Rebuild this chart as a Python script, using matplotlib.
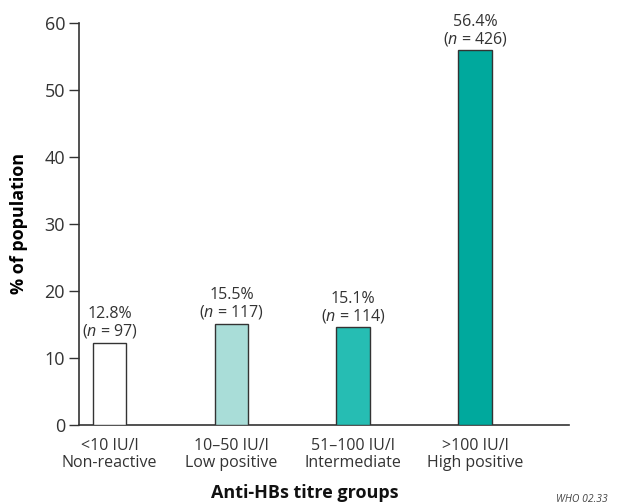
import matplotlib
matplotlib.use("Agg")
import matplotlib.pyplot as plt

# Data
groups = ["<10 IU/l\nNon-reactive", "10\u201350 IU/l\nLow positive",
          "51\u2013100 IU/l\nIntermediate", ">100 IU/l\nHigh positive"]
heights = [12.2, 15.0, 14.5, 55.9]          # bar heights as drawn
pct_labels = ["12.8%", "15.5%", "15.1%", "56.4%"]
n_values = [97, 117, 114, 426]
colors = ["#ffffff", "#a9ddd8", "#26bdb3", "#00a99d"]

plt.rcParams["font.family"] = ["Open Sans", "DejaVu Sans"]
plt.rcParams["mathtext.fontset"] = "custom"
plt.rcParams["mathtext.it"] = "Open Sans:italic"
plt.rcParams["mathtext.rm"] = "Open Sans"

fig = plt.figure(figsize=(6.23, 5.04), dpi=100)
W, H = 623, 504
ax = fig.add_axes([79 / W, 1 - 424.5 / H, (569 - 79) / W, (424.5 - 23) / H])

x = list(range(len(groups)))
ax.bar(x, heights, width=0.276, color=colors, edgecolor="#333333", linewidth=1.0, zorder=3)

for xi, h, p, n in zip(x, heights, pct_labels, n_values):
    ax.annotate(p + "\n($\\it{n}$ = %d)" % n, (xi, h), xytext=(0, 2),
                textcoords="offset points", ha="center", va="bottom",
                fontsize=11.5, color="#333333", linespacing=1.0)

ax.set_xlim(-0.25, 3.77)
ax.set_ylim(0, 60)
ax.set_yticks([0, 10, 20, 30, 40, 50, 60])
ax.tick_params(axis="y", length=7, width=1, color="#333333", labelsize=13,
               labelcolor="#333333", pad=3)
ax.set_xticks(x)
ax.set_xticklabels(groups, fontsize=11.5, color="#333333", linespacing=1.05)
ax.tick_params(axis="x", length=0, pad=10)

for s in ["top", "right"]:
    ax.spines[s].set_visible(False)
for s in ["left", "bottom"]:
    ax.spines[s].set_color("#333333")
    ax.spines[s].set_linewidth(1.2)

ax.set_ylabel("% of population", fontsize=13, fontweight="bold", labelpad=12)
fig.text(305 / W, 1 - 493 / H, "Anti-HBs titre groups", ha="center", va="center",
         fontsize=13, fontweight="bold", color="#111111")
fig.text(556 / W, 1 - 499 / H, "WHO 02.33", ha="left", va="center",
         fontsize=7.5, style="italic", color="#444444")

fig.savefig("out.png", dpi=100)
